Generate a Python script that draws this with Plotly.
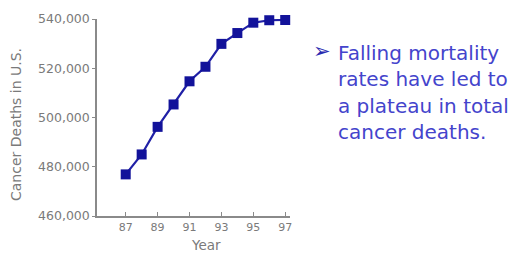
import plotly.graph_objects as go

years = [87, 88, 89, 90, 91, 92, 93, 94, 95, 96, 97]
deaths = [476900, 485000, 496200, 505300, 514700, 520600, 529900, 534300, 538500, 539500, 539600]
xtick_vals = [87, 89, 91, 93, 95, 97]
xtick_text = ["87", "89", "91", "93", "95", "97"]
ytick_vals = [460000, 480000, 500000, 520000, 540000]
text_lines = ["Falling mortality", "rates have led to", "a plateau in total", "cancer deaths."]

# page body adds an 8px offset; figure is sized to fill the rest of the window
OFF = 8
W, H = 521 - OFF, 255 - OFF
PL, PT, PR, PB = 97, 19, 290, 216  # plot area in window pixels
L, T = PL - OFF, PT - OFF
R, B = W - (PR - OFF), H - (PB - OFF)
pw, ph = PR - PL, PB - PT

GRAY = "#7a7a7a"
FONT = "DejaVu Sans, Liberation Sans, sans-serif"

fig = go.Figure()
fig.add_trace(go.Scatter(
    x=years, y=deaths, mode="lines+markers",
    line=dict(color="#2020a6", width=2.2),
    marker=dict(symbol="square", size=10, color="#12129a"),
    cliponaxis=False, showlegend=False,
))

fig.update_layout(
    width=W, height=H,
    margin=dict(l=L, r=R, t=T, b=B, pad=0, autoexpand=False),
    paper_bgcolor="white", plot_bgcolor="white",
    xaxis=dict(range=[85.2, 97.3], tickvals=xtick_vals, ticktext=xtick_text, automargin=False,
               showgrid=False, zeroline=False, showline=True, linecolor="#8a8a8a", linewidth=1.5,
               ticks="inside", ticklen=4, tickcolor="#8a8a8a",
               tickfont=dict(family=FONT, size=11, color=GRAY)),
    yaxis=dict(range=[460000, 540000], tickvals=ytick_vals, tickformat=",d", automargin=False,
               showgrid=False, zeroline=False, showline=True, linecolor="#8a8a8a", linewidth=1.5,
               ticks="outside", ticklen=3, tickcolor="#8a8a8a",
               tickfont=dict(family=FONT, size=12.5, color=GRAY)),
)

def px_x(px):
    return (px - PL) / pw

def px_y(py):
    return 1 - (py - PT) / ph

fig.add_annotation(text="Year", xref="paper", yref="paper", x=px_x(206), y=px_y(245),
                   showarrow=False, xanchor="center", yanchor="middle",
                   font=dict(family=FONT, size=13.5, color=GRAY))

fig.add_annotation(text="Cancer Deaths in U.S.", xref="paper", yref="paper", x=px_x(16), y=px_y(125),
                   showarrow=False, xanchor="center", yanchor="middle", textangle=-90,
                   font=dict(family=FONT, size=14, color=GRAY))

fig.add_annotation(text="➢", xref="paper", yref="paper", x=px_x(322), y=px_y(51),
                   showarrow=False, xanchor="center", yanchor="middle",
                   font=dict(family="DejaVu Sans", size=21, color="#2a2ab0"))

baselines = [59, 85, 112, 138]
for line, bl in zip(text_lines, baselines):
    fig.add_annotation(text=line, xref="paper", yref="paper", x=px_x(336), y=px_y(bl - 6),
                       showarrow=False, xanchor="left", yanchor="middle",
                       font=dict(family=FONT, size=20, color="#4444cc"))

fig.write_html("out.html")
